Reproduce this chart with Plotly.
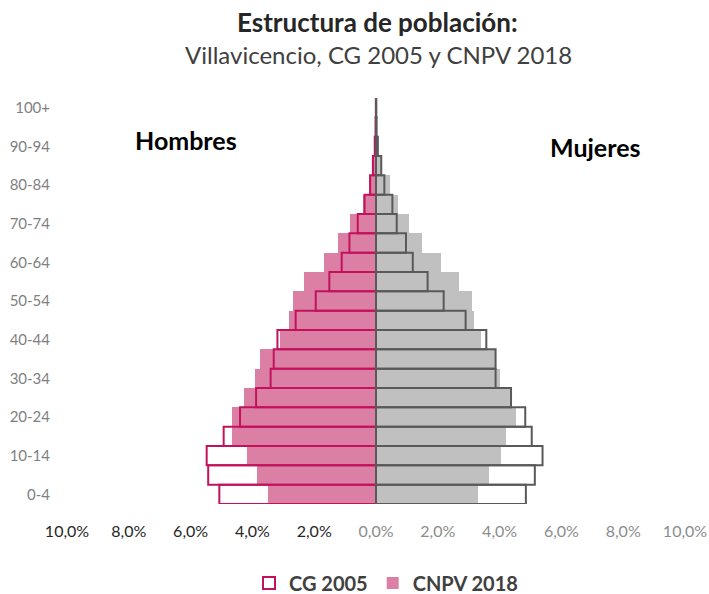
import plotly.graph_objects as go

age_groups = ["0-4", "5-9", "10-14", "15-19", "20-24", "25-29", "30-34", "35-39",
              "40-44", "45-49", "50-54", "55-59", "60-64", "65-69", "70-74", "75-79",
              "80-84", "85-89", "90-94", "95-99", "100+"]

men_2005 = [5.07, 5.43, 5.48, 4.93, 4.40, 3.88, 3.41, 3.31, 3.19, 2.60, 1.95,
            1.51, 1.11, 0.86, 0.59, 0.37, 0.19, 0.10, 0.04, 0.015, 0.005]
men_2018 = [3.50, 3.85, 4.18, 4.66, 4.66, 4.26, 3.90, 3.74, 3.12, 2.81, 2.70,
            2.32, 1.67, 1.24, 0.84, 0.43, 0.22, 0.10, 0.05, 0.02, 0.01]
women_2005 = [4.85, 5.14, 5.39, 5.04, 4.83, 4.37, 3.87, 3.87, 3.57, 2.90, 2.19,
              1.67, 1.19, 0.97, 0.67, 0.53, 0.27, 0.17, 0.06, 0.02, 0.01]
women_2018 = [3.30, 3.65, 4.03, 4.22, 4.54, 4.34, 4.00, 3.85, 3.40, 3.17, 3.11,
              2.68, 2.10, 1.50, 1.07, 0.70, 0.45, 0.20, 0.08, 0.03, 0.01]

x_ticks = [-10, -8, -6, -4, -2, 0, 2, 4, 6, 8, 10]
x_tick_labels = ["10,0%", "8,0%", "6,0%", "4,0%", "2,0%", "0,0%",
                 "2,0%", "4,0%", "6,0%", "8,0%", "10,0%"]
y_tick_labels = age_groups[::2]

PINK_FILL = "#DB80A4"
PINK_LINE = "#C2125C"
GRAY_FILL = "#C0C0C0"
GRAY_LINE = "#595959"

L, R, T, B = 67, 24, 98, 90
W, H = 709, 594
PW, PH = W - L - R, H - T - B

fig = go.Figure()

fig.add_trace(go.Bar(y=age_groups, x=[-v for v in men_2018], orientation="h",
                     name="CNPV 2018", marker=dict(color=PINK_FILL, line=dict(width=0)),
                     legendrank=2))
fig.add_trace(go.Bar(y=age_groups, x=women_2018, orientation="h",
                     name="CNPV 2018 M", marker=dict(color=GRAY_FILL, line=dict(width=0)),
                     showlegend=False))
fig.add_trace(go.Bar(y=age_groups, x=[-v for v in men_2005], orientation="h",
                     name="CG 2005",
                     marker=dict(color="rgba(255,255,255,0)", line=dict(color=PINK_LINE, width=2)),
                     legendrank=1))
fig.add_trace(go.Bar(y=age_groups, x=women_2005, orientation="h",
                     name="CG 2005 M",
                     marker=dict(color="rgba(255,255,255,0)", line=dict(color=GRAY_LINE, width=2)),
                     showlegend=False))

tick_text = []
for v, t in zip(x_ticks, x_tick_labels):
    col = "#262626" if v < 0 else "#8C8C8C"
    tick_text.append(f"<span style='color:{col}'>{t}</span>")

fig.update_layout(
    width=W, height=H,
    barmode="overlay", bargap=0,
    plot_bgcolor="white", paper_bgcolor="white",
    font=dict(family="Lato", size=15, color="#595959"),
    margin=dict(l=L, r=R, t=T, b=B, autoexpand=False),
    xaxis=dict(range=[-10, 10], tickvals=x_ticks, ticktext=tick_text,
               showgrid=False, zeroline=True, zerolinecolor="#A0A0A0", zerolinewidth=2,
               showline=False, ticks="", layer="above traces", ticklabelstandoff=16,
               tickfont=dict(size=16), automargin=False),
    yaxis=dict(type="category", categoryorder="array", categoryarray=age_groups,
               range=[-0.5, 20.5], tickvals=y_tick_labels, ticktext=y_tick_labels,
               showgrid=False, showline=False, ticks="", ticklabelstandoff=16,
               tickfont=dict(size=15, color="#7F7F7F"), automargin=False),
    legend=dict(orientation="h", xref="container", yref="container",
                x=386 / W, y=1 - 583 / H, xanchor="center", yanchor="middle",
                font=dict(size=20, color="#404040", family="Lato", weight="bold"),
                itemwidth=30, traceorder="normal", tracegroupgap=0),
    showlegend=True,
    hovermode=False,
)

fig.add_annotation(text="<b>Estructura de población:</b>", xref="paper", yref="paper",
                   x=(377 - L) / PW, y=1 + (T - 22) / PH, xanchor="center", yanchor="middle",
                   showarrow=False, font=dict(size=26, color="#262626"))
fig.add_annotation(text="Villavicencio, CG 2005 y CNPV 2018", xref="paper", yref="paper",
                   x=(378 - L) / PW, y=1 + (T - 55) / PH, xanchor="center", yanchor="middle",
                   showarrow=False, font=dict(size=24, color="#404040"))
fig.add_annotation(text="<b>Hombres</b>", xref="paper", yref="paper",
                   x=(186 - L) / PW, y=1 - (140 - T) / PH, xanchor="center", yanchor="middle",
                   showarrow=False, font=dict(size=25, color="#000000"))
fig.add_annotation(text="<b>Mujeres</b>", xref="paper", yref="paper",
                   x=(595 - L) / PW, y=1 - (147 - T) / PH, xanchor="center", yanchor="middle",
                   showarrow=False, font=dict(size=25, color="#000000"))

fig.write_html("out.html", config={"displayModeBar": False, "staticPlot": True},
               post_script="document.body.style.margin='0';document.body.style.overflow='hidden';")
